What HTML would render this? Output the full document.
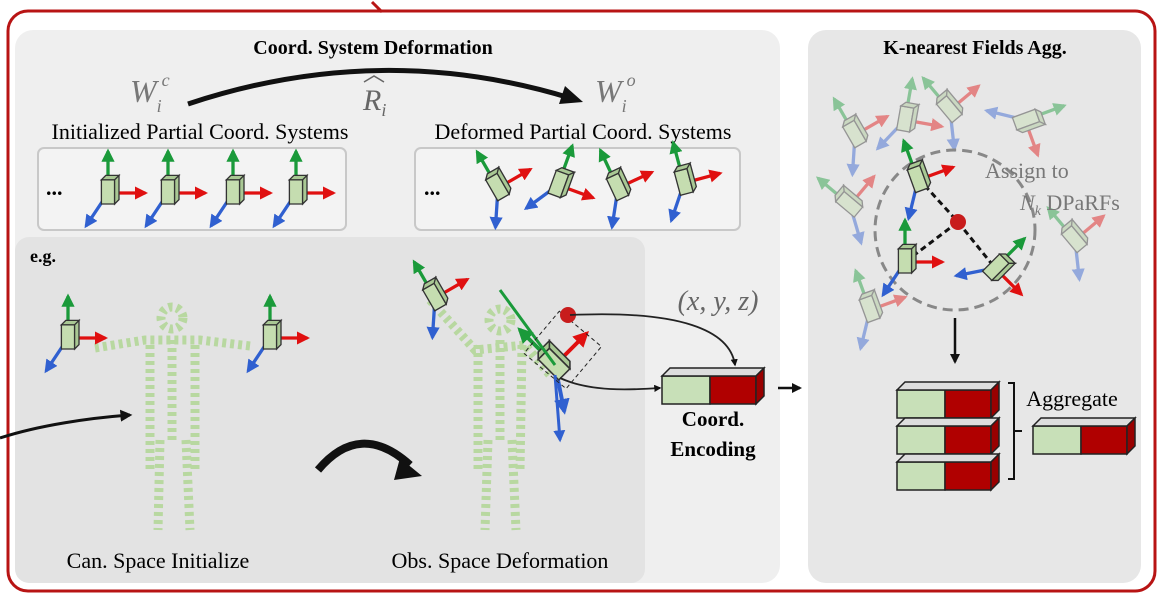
<!DOCTYPE html>
<html><head><meta charset="utf-8"><style>
html,body{margin:0;padding:0;background:#fff}
svg{display:block}
text{font-family:"Liberation Serif",serif}
</style></head><body>
<svg width="1163" height="612" viewBox="0 0 1163 612" xmlns="http://www.w3.org/2000/svg">
<defs>
<marker id="rr" viewBox="0 0 10 10" refX="8" refY="5" markerWidth="4" markerHeight="4" orient="auto"><path d="M0,0L10,5L0,10z" fill="#e01010"/></marker>
<marker id="gg" viewBox="0 0 10 10" refX="8" refY="5" markerWidth="4" markerHeight="4" orient="auto"><path d="M0,0L10,5L0,10z" fill="#1a9a3a"/></marker>
<marker id="bb" viewBox="0 0 10 10" refX="8" refY="5" markerWidth="4" markerHeight="4" orient="auto"><path d="M0,0L10,5L0,10z" fill="#3060d0"/></marker>
<marker id="kk" viewBox="0 0 10 10" refX="8" refY="5" markerWidth="4" markerHeight="4" orient="auto"><path d="M0,0L10,5L0,10z" fill="#111"/></marker>
<g id="fr0">
<line x1="0" y1="0" x2="34" y2="0" stroke="#e01010" stroke-width="3" marker-end="url(#rr)"/>
<line x1="0" y1="0" x2="0" y2="-38" stroke="#1a9a3a" stroke-width="3" marker-end="url(#gg)"/>
<line x1="0" y1="0" x2="-20" y2="30" stroke="#3060d0" stroke-width="3" marker-end="url(#bb)"/>
<path d="M-6,-12 h12 v22 h-12z" fill="#c5ddb0" stroke="#333" stroke-width="1.2"/>
<path d="M-6,-12 l4,-4 h12 l-4,4z M6,-12 l4,-4 v22 l-4,4z" fill="#a9c894" stroke="#333" stroke-width="1.2"/>
</g>
<g id="fr"><use href="#fr0" transform="scale(1.1)"/></g>
<g id="ffr" opacity="0.45"><use href="#fr"/></g>
<g id="bar">
<path d="M0,0 h48 v28 h-48z" fill="#c8e0b8" stroke="#222" stroke-width="1.5"/>
<path d="M48,0 h46 v28 h-46z" fill="#b00000" stroke="#222" stroke-width="1.5"/>
<path d="M0,0 l8,-8 h94 l-8,8z" fill="#ddd" stroke="#222" stroke-width="1.5"/>
<path d="M94,0 l8,-8 v28 l-8,8z" fill="#900" stroke="#222" stroke-width="1.5"/>
</g>
</defs>
<rect x="8" y="11" width="1147" height="580" rx="20" fill="none" stroke="#b81414" stroke-width="3"/>
<path d="M372,2 l10,10" stroke="#b81414" stroke-width="3"/>
<rect x="15" y="30" width="765" height="553" rx="18" fill="#efefef"/>
<rect x="15" y="237" width="630" height="346" rx="14" fill="#e3e3e3"/>
<rect x="808" y="30" width="333" height="553" rx="18" fill="#e7e7e7"/>
<rect x="38" y="148" width="308" height="82" rx="6" fill="#f3f3f3" stroke="#c8c8c8" stroke-width="2"/>
<rect x="415" y="148" width="325" height="82" rx="6" fill="#f3f3f3" stroke="#c8c8c8" stroke-width="2"/>
<text x="373" y="54" font-size="20" font-weight="bold" text-anchor="middle">Coord. System Deformation</text>
<text x="975" y="54" font-size="20" font-weight="bold" text-anchor="middle">K-nearest Fields Agg.</text>
<text x="200" y="139" font-size="22" text-anchor="middle">Initialized Partial Coord. Systems</text>
<text x="583" y="139" font-size="22" text-anchor="middle">Deformed Partial Coord. Systems</text>
<text x="130" y="102" font-size="32" font-style="italic" fill="#777">W<tspan font-size="18" dy="10">i</tspan><tspan font-size="18" dy="-26">c</tspan></text>
<text x="363" y="110" font-size="30" font-style="italic" fill="#666">R<tspan font-size="18" dy="6">i</tspan></text>
<path d="M364,82 l10,-6 l10,6" fill="none" stroke="#666" stroke-width="1.5"/>
<text x="595" y="102" font-size="32" font-style="italic" fill="#777">W<tspan font-size="18" dy="10">i</tspan><tspan font-size="18" dy="-26">o</tspan></text>
<path d="M188,104 Q380,40 570,98" fill="none" stroke="#111" stroke-width="5"/>
<path d="M565,86 l18,16 l-24,2z" fill="#111"/>
<text x="46" y="195" font-size="22" font-weight="bold">...</text>
<text x="424" y="195" font-size="22" font-weight="bold">...</text>
<use href="#fr" x="108" y="193"/><use href="#fr" x="168" y="193"/><use href="#fr" x="233" y="193"/><use href="#fr" x="296" y="193"/>
<use href="#fr" transform="translate(498,188) rotate(-30)"/>
<use href="#fr" transform="translate(558,185) rotate(20)"/>
<use href="#fr" transform="translate(618,188) rotate(-25)"/>
<use href="#fr" transform="translate(684,183) rotate(-15)"/>
<text x="30" y="262" font-size="18" font-weight="bold">e.g.</text>
<g fill="none" stroke="#b8d8a0" stroke-width="9" stroke-dasharray="4 4" stroke-linecap="butt">
<circle cx="172" cy="318" r="11"/>
<path d="M95,348 L145,340 L200,340 L250,346"/>
<path d="M172,340 L172,440 M150,345 L150,470 M195,345 L195,470"/>
<path d="M160,440 L158,530 M186,440 L190,530"/>
<circle cx="500" cy="320" r="11"/>
<path d="M430,300 L475,350 L525,345 L550,375"/>
<path d="M500,340 L500,440 M478,345 L478,470 M522,345 L520,470"/>
<path d="M488,440 L485,530 M512,440 L516,530"/>
</g>
<use href="#fr" x="68" y="338"/><use href="#fr" x="270" y="338"/>
<use href="#fr" transform="translate(435,298) rotate(-30)"/>
<use href="#fr" transform="translate(555,365) rotate(-45) scale(1.2)"/>
<line x1="555" y1="365" x2="500" y2="290" stroke="#1a9a3a" stroke-width="3"/>
<line x1="555" y1="375" x2="560" y2="440" stroke="#3060d0" stroke-width="3" marker-end="url(#bb)"/>
<rect x="535" y="322" width="55" height="55" fill="none" stroke="#222" stroke-dasharray="4 3" transform="rotate(40 562 350)"/>
<circle cx="568" cy="315" r="8" fill="#c81c1c"/>
<path d="M570,315 C680,310 730,330 735,365" fill="none" stroke="#222" stroke-width="1.8" marker-end="url(#kk)"/>
<path d="M560,378 C590,392 630,390 660,388" fill="none" stroke="#222" stroke-width="1.8" marker-end="url(#kk)"/>
<path d="M0,438 C40,425 90,418 130,415" fill="none" stroke="#111" stroke-width="3" marker-end="url(#kk)"/>
<path d="M318,470 Q360,420 410,465" fill="none" stroke="#111" stroke-width="8"/>
<path d="M400,458 l22,18 l-28,4z" fill="#111"/>
<text x="718" y="310" font-size="28" font-style="italic" fill="#666" text-anchor="middle">(x, y, z)</text>
<use href="#bar" x="662" y="376"/>
<text x="713" y="426" font-size="21" font-weight="bold" text-anchor="middle">Coord.</text>
<text x="713" y="456" font-size="21" font-weight="bold" text-anchor="middle">Encoding</text>
<line x1="778" y1="388" x2="800" y2="388" stroke="#111" stroke-width="2.5" marker-end="url(#kk)"/>
<text x="158" y="568" font-size="22" text-anchor="middle">Can.  Space Initialize</text>
<text x="500" y="568" font-size="22" text-anchor="middle">Obs.  Space Deformation</text>
<use href="#ffr" transform="translate(855,135) rotate(-30)"/>
<use href="#ffr" transform="translate(905,120) rotate(10)"/>
<use href="#ffr" transform="translate(950,110) rotate(-40)"/>
<use href="#ffr" transform="translate(1025,120) rotate(70)"/>
<use href="#ffr" transform="translate(850,205) rotate(-50)"/>
<use href="#ffr" transform="translate(1075,240) rotate(-40)"/>
<use href="#ffr" transform="translate(870,310) rotate(-20)"/>
<circle cx="955" cy="230" r="80" fill="none" stroke="#888" stroke-width="3" stroke-dasharray="10 6"/>
<path d="M918,178 L958,222 L905,262 M958,222 L995,268" stroke="#111" stroke-width="3" stroke-dasharray="6 4" fill="none"/>
<circle cx="958" cy="222" r="8" fill="#c81c1c"/>
<use href="#fr" transform="translate(918,180) rotate(-20)"/>
<use href="#fr" transform="translate(905,262) rotate(0)"/>
<use href="#fr" transform="translate(995,268) rotate(45)"/>
<text x="985" y="178" font-size="22" fill="#777">Assign to</text>
<text x="1020" y="210" font-size="22" fill="#777"><tspan font-style="italic">N</tspan><tspan font-size="14" dy="5" font-style="italic">k</tspan><tspan dy="-5"> DPaRFs</tspan></text>
<line x1="955" y1="318" x2="955" y2="362" stroke="#111" stroke-width="2.5" marker-end="url(#kk)"/>
<use href="#bar" x="897" y="390"/><use href="#bar" x="897" y="426"/><use href="#bar" x="897" y="462"/>
<path d="M1008,383 h6 v96 h-6 M1014,431 h8" fill="none" stroke="#111" stroke-width="2"/>
<text x="1072" y="406" font-size="22" text-anchor="middle">Aggregate</text>
<use href="#bar" x="1033" y="426"/>
</svg>
</body></html>
